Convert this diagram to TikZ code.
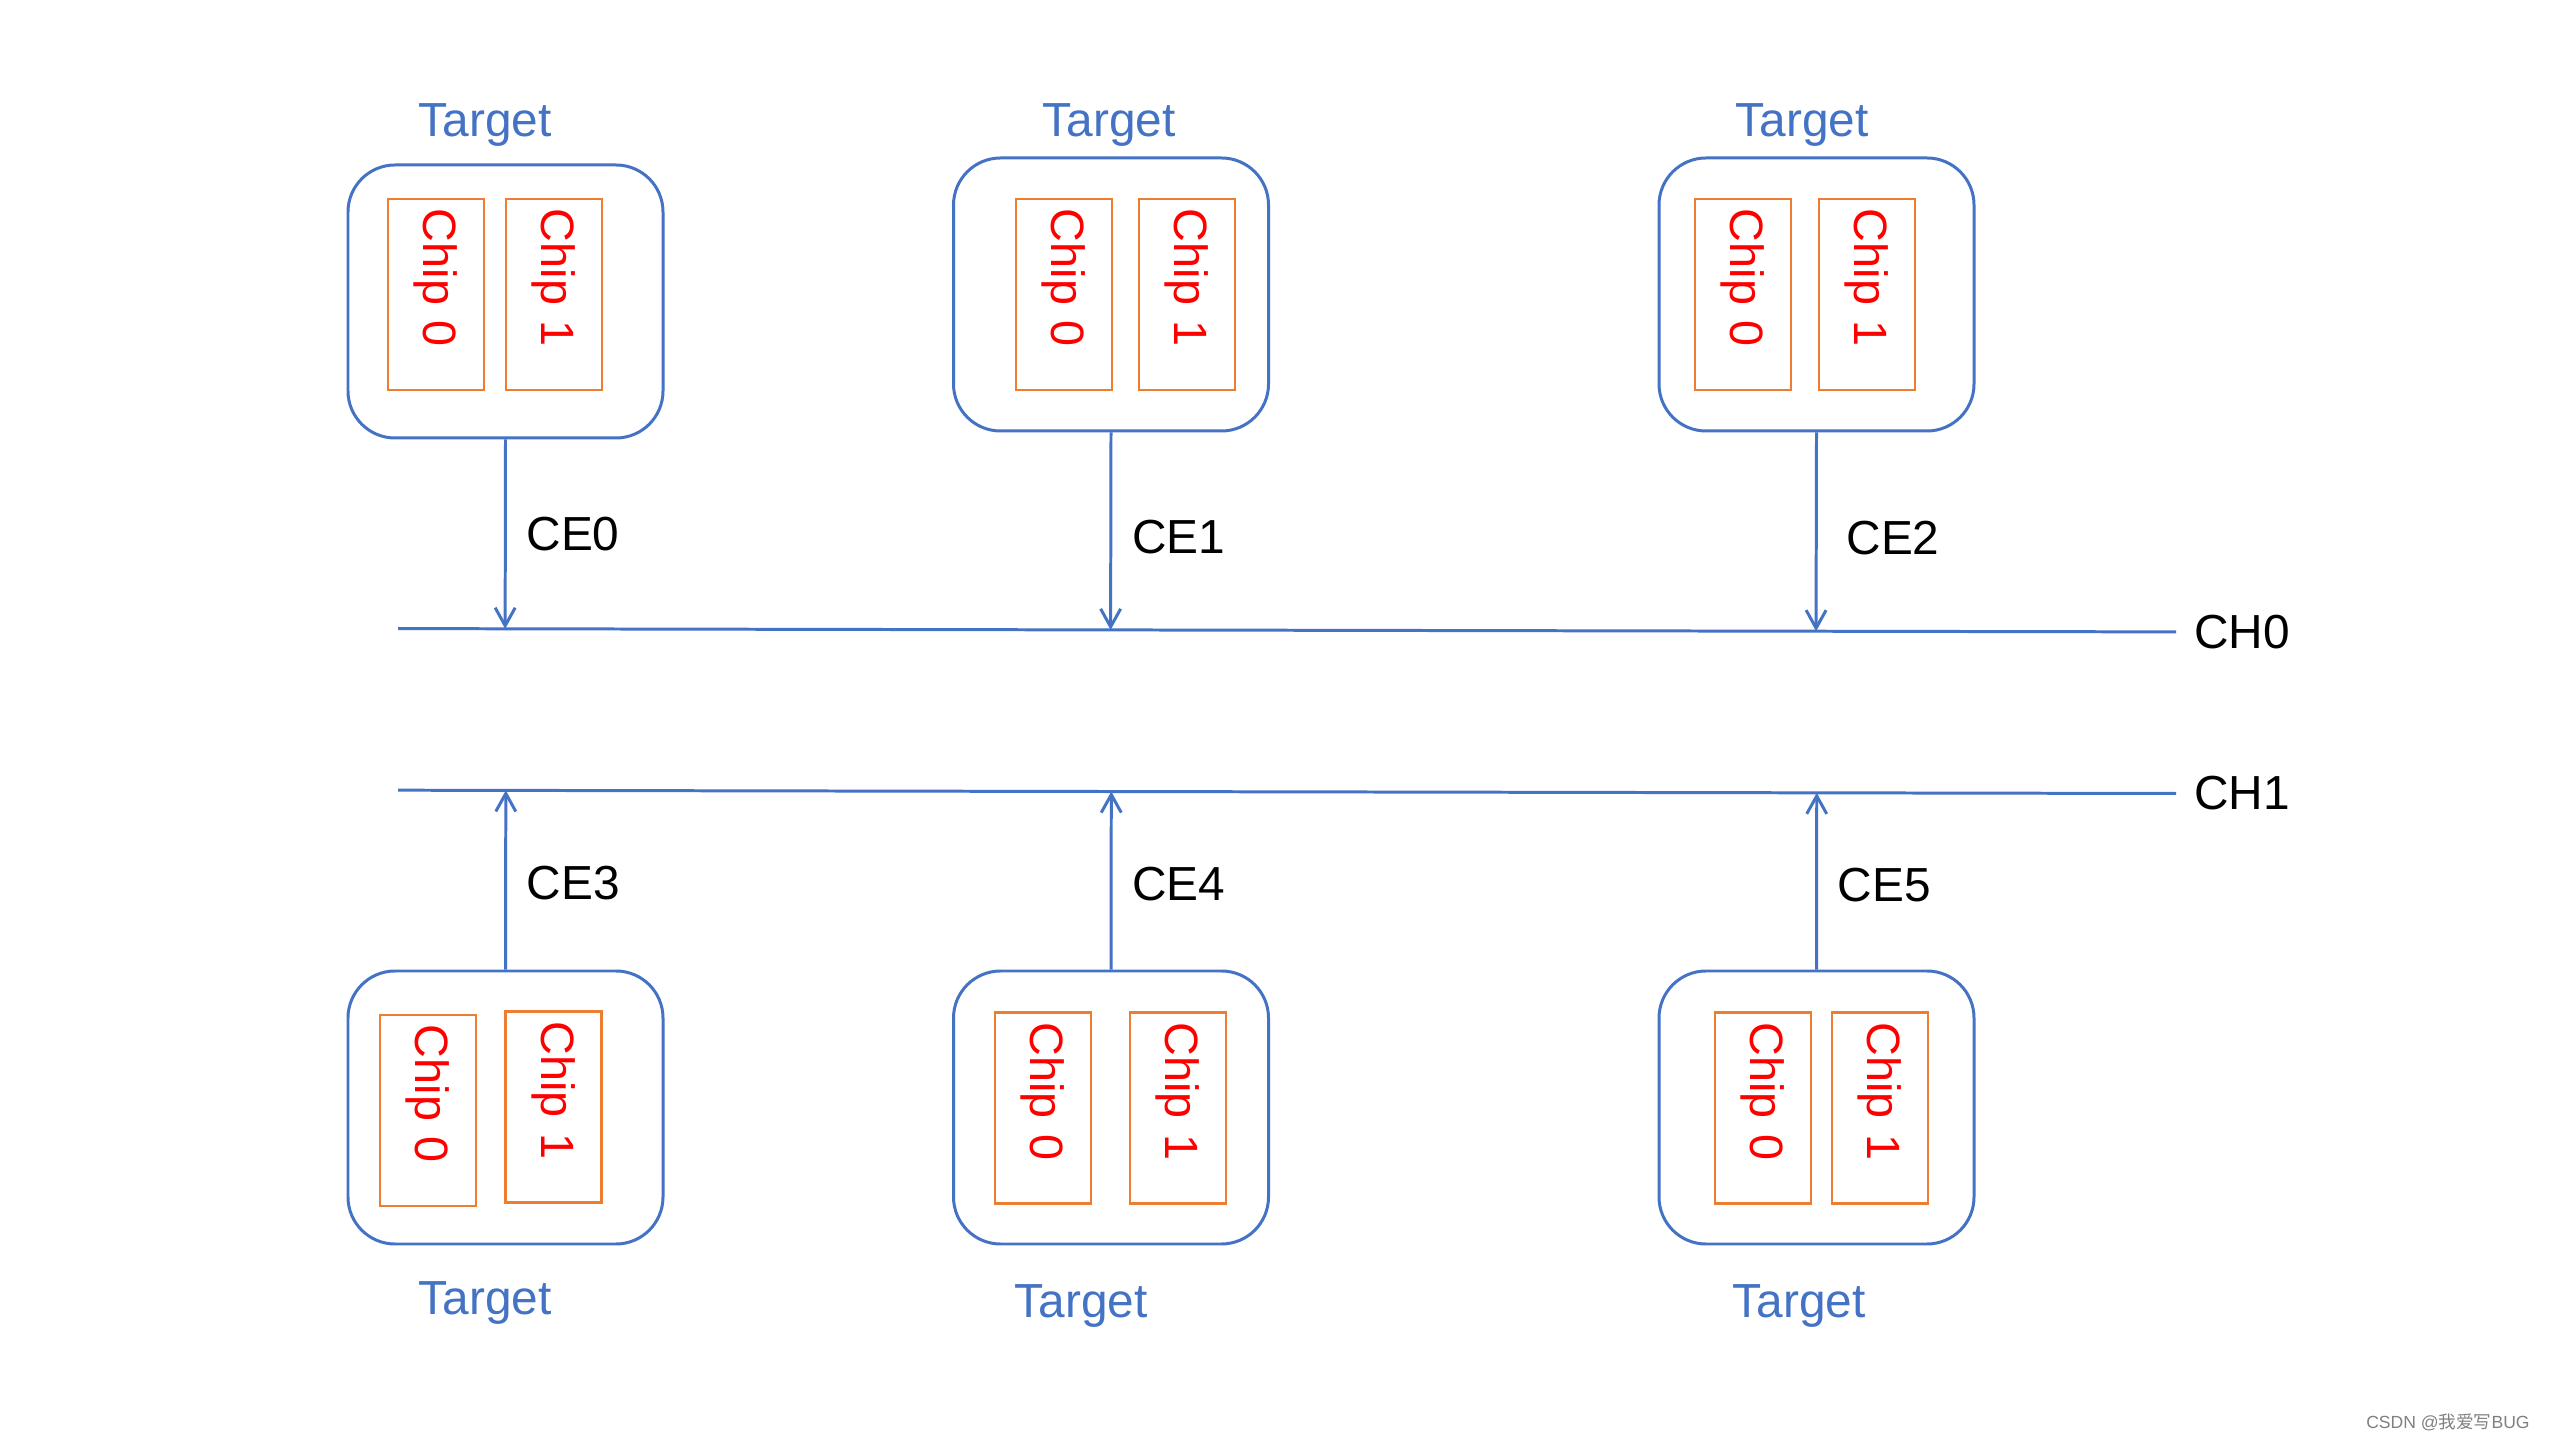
\documentclass[tikz,border=0pt]{standalone}
\usepackage{fontspec}
\setmainfont{Liberation Sans}
\newfontfamily\cjkfont{Noto Sans CJK SC}
\usetikzlibrary{arrows.meta, positioning, calc}
\definecolor{flashblue}{RGB}{68,114,196}
\definecolor{flashorange}{RGB}{237,125,49}
\definecolor{flashred}{RGB}{255,0,0}

\begin{document}
\begin{tikzpicture}[font=\fontsize{13.6}{16}\selectfont,
    target/.style={draw=flashblue, line width=0.85pt, rounded corners=0.47cm,
                   minimum width=3.15cm, minimum height=2.73cm},
    chip/.style={draw=flashorange, line width=0.6pt, rotate=-90, text=flashred,
                 font=\fontsize{13.3}{16}\selectfont,
                 text width=1.71cm, inner xsep=0.1cm, minimum height=0.96cm, align=left},
    tlabel/.style={text=flashblue},
    bus/.style={draw=flashblue, line width=0.85pt},
    link/.style={draw=flashblue, line width=0.85pt, -{Straight Barb[length=1.8mm, width=2mm]}},
    celabel/.style={right=0.08cm}]
  \path[use as bounding box, fill=white] (0,0) rectangle (25.6,14.4);

  % targets on CH0
  \node[target] (t0) at (5.055,11.385) {};
  \node[chip] (t0c0) at (4.36,11.455) {Chip 0};
  \node[chip] (t0c1) at (5.54,11.455) {Chip 1};
  \node[tlabel] (lbl0) at (4.85,13.145) {Target};

  \node[target] (t1) at (11.11,11.455) {};
  \node[chip] (t1c0) at (10.64,11.455) {Chip 0};
  \node[chip] (t1c1) at (11.87,11.455) {Chip 1};
  \node[tlabel] (lbl1) at (11.09,13.145) {Target};

  \node[target] (t2) at (18.165,11.455) {};
  \node[chip] (t2c0) at (17.43,11.455) {Chip 0};
  \node[chip] (t2c1) at (18.67,11.455) {Chip 1};
  \node[tlabel] (lbl2) at (18.02,13.145) {Target};

  % targets on CH1
  \node[target] (t3) at (5.055,3.325) {};
  \node[chip] (t3c0) at (4.28,3.295) {Chip 0};
  \node[chip] (t3c1) at (5.535,3.33) {Chip 1};
  \node[tlabel] (lbl3) at (4.85,1.37) {Target};

  \node[target] (t4) at (11.11,3.325) {};
  \node[chip] (t4c0) at (10.43,3.32) {Chip 0};
  \node[chip] (t4c1) at (11.78,3.32) {Chip 1};
  \node[tlabel] (lbl4) at (10.81,1.34) {Target};

  \node[target] (t5) at (18.165,3.325) {};
  \node[chip] (t5c0) at (17.63,3.32) {Chip 0};
  \node[chip] (t5c1) at (18.80,3.32) {Chip 1};
  \node[tlabel] (lbl5) at (17.99,1.34) {Target};

  % channels
  \coordinate (ch0a) at (3.98,8.114);
  \coordinate (ch0b) at (21.76,8.081);
  \coordinate (ch1a) at (3.98,6.498);
  \coordinate (ch1b) at (21.76,6.465);
  \draw[bus] (ch0a) -- (ch0b) node[right=0.05cm] (ch0) {CH0};
  \draw[bus] (ch1a) -- (ch1b) node[right=0.05cm] (ch1) {CH1};

  % chip enables
  \draw[link] (t0.south) -- node[celabel, pos=0.5] (ce0) {CE0} ($(ch0a)!(t0.south)!(ch0b)$);
  \draw[link] (t1.south) -- node[celabel, pos=0.53] (ce1) {CE1} ($(ch0a)!(t1.south)!(ch0b)$);
  \draw[link] (t2.south) -- node[celabel, right=0.17cm, pos=0.53] (ce2) {CE2} ($(ch0a)!(t2.south)!(ch0b)$);
  \draw[link] (t3.north) -- node[celabel, pos=0.48] (ce3) {CE3} ($(ch1a)!(t3.north)!(ch1b)$);
  \draw[link] (t4.north) -- node[celabel, pos=0.48] (ce4) {CE4} ($(ch1a)!(t4.north)!(ch1b)$);
  \draw[link] (t5.north) -- node[celabel, pos=0.48] (ce5) {CE5} ($(ch1a)!(t5.north)!(ch1b)$);

  \node[text=gray, font=\fontsize{5}{6}\selectfont, anchor=east] (mark) at (25.42,0.18)
    {CSDN @{\cjkfont 我爱写}BUG};
\end{tikzpicture}
\end{document}
